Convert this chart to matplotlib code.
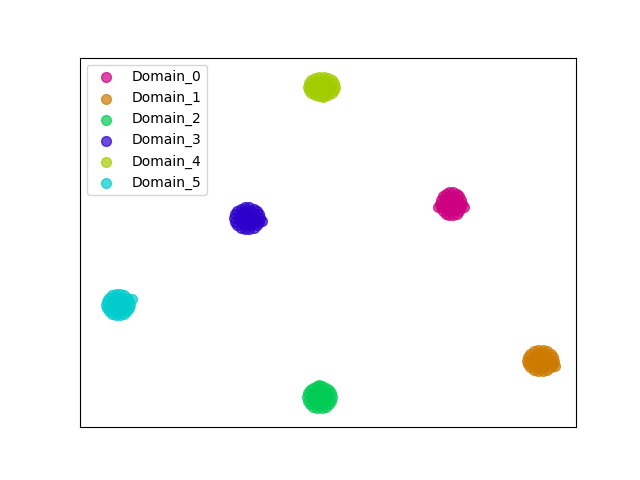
import matplotlib
matplotlib.use('Agg')
import matplotlib.pyplot as plt

labels = ['Domain_0', 'Domain_1', 'Domain_2', 'Domain_3', 'Domain_4', 'Domain_5']
colors = ['#cc0080', '#cc7a00', '#00cc55', '#2e00cc', '#a3cc00', '#00cccc']

# embedded points for each domain
x0 = [462, 461.3, 459.4, 456.5, 452.9, 449.1, 445.5, 442.6, 440.7, 440, 440.7, 442.6, 445.5, 449.1, 452.9, 456.5, 459.4, 461.3,
      458, 456.7, 453.2, 448.8, 445.3, 444, 445.3, 448.8, 453.2, 456.7,
      455, 452.2, 447.8, 447.8, 452.2, 451, 438, 464]
y0 = [276.5, 280.4, 283.9, 286.5, 287.8, 287.8, 286.5, 283.9, 280.4, 276.5, 272.6, 269.1, 266.5, 265.2, 265.2, 266.5, 269.1, 272.6,
      276.5, 280.6, 283.2, 283.2, 280.6, 276.5, 272.4, 269.8, 269.8, 272.4,
      276.5, 279.8, 278.6, 274.4, 273.2, 276.5, 273, 273]

x1 = [554, 553.2, 550.8, 547.3, 542.8, 538.2, 533.7, 530.2, 527.8, 527, 527.8, 530.2, 533.7, 538.2, 542.8, 547.3, 550.8, 553.2,
      549, 547.4, 543.1, 537.9, 533.6, 532, 533.6, 537.9, 543.1, 547.4,
      544.5, 541.7, 537.3, 537.3, 541.7, 540.5, 554.5]
y1 = [119.5, 123.1, 126.2, 128.6, 129.8, 129.8, 128.6, 126.2, 123.1, 119.5, 115.9, 112.8, 110.4, 109.2, 109.2, 110.4, 112.8, 115.9,
      119.5, 123.3, 125.7, 125.7, 123.3, 119.5, 115.7, 113.3, 113.3, 115.7,
      119.5, 122.8, 121.6, 117.4, 116.2, 119.5, 114]

x2 = [332, 331.2, 329.1, 325.8, 321.7, 317.3, 313.2, 309.9, 307.8, 307, 307.8, 309.9, 313.2, 317.3, 321.7, 325.8, 329.1, 331.2,
      327.5, 326, 322, 317, 313, 311.5, 313, 317, 322, 326,
      323.5, 320.7, 316.3, 316.3, 320.7, 319.5, 318.5]
y2 = [83, 86.8, 90.1, 92.5, 93.8, 93.8, 92.5, 90.1, 86.8, 83, 79.2, 75.9, 73.5, 72.2, 72.2, 73.5, 75.9, 79.2,
      83, 87.1, 89.7, 89.7, 87.1, 83, 78.9, 76.3, 76.3, 78.9,
      83, 86.3, 85.1, 80.9, 79.7, 83, 95.5]

x3 = [260, 259.2, 257, 253.5, 249.3, 244.7, 240.5, 237, 234.8, 234, 234.8, 237, 240.5, 244.7, 249.3, 253.5, 257, 259.2,
      255, 253.5, 249.5, 244.5, 240.5, 239, 240.5, 244.5, 249.5, 253.5,
      251, 248.2, 243.8, 243.8, 248.2, 247, 261.5]
y3 = [262, 265.8, 269.1, 271.5, 272.8, 272.8, 271.5, 269.1, 265.8, 262, 258.2, 254.9, 252.5, 251.2, 251.2, 252.5, 254.9, 258.2,
      262, 266.1, 268.7, 268.7, 266.1, 262, 257.9, 255.3, 255.3, 257.9,
      262, 265.3, 264.1, 259.9, 258.7, 262, 259.5]

x4 = [335, 334.2, 331.8, 328.3, 323.8, 319.2, 314.7, 311.2, 308.8, 308, 308.8, 311.2, 314.7, 319.2, 323.8, 328.3, 331.8, 334.2,
      330, 328.4, 324.1, 318.9, 314.6, 313, 314.6, 318.9, 324.1, 328.4,
      325.5, 322.7, 318.3, 318.3, 322.7, 321.5, 323]
y4 = [393.5, 396.9, 399.9, 402.2, 403.3, 403.3, 402.2, 399.9, 396.9, 393.5, 390.1, 387.1, 384.8, 383.7, 383.7, 384.8, 387.1, 390.1,
      393.5, 397, 399.2, 399.2, 397, 393.5, 390, 387.8, 387.8, 390,
      393.5, 396.5, 395.5, 391.5, 390.5, 393.5, 383]

x5 = [130, 129.3, 127.2, 124, 120.1, 115.9, 112, 108.8, 106.7, 106, 106.7, 108.8, 112, 115.9, 120.1, 124, 127.2, 129.3,
      125.5, 124.1, 120.3, 115.7, 111.9, 110.5, 111.9, 115.7, 120.3, 124.1,
      122, 119.2, 114.8, 114.8, 119.2, 118, 131.5]
y5 = [175.5, 179.1, 182.2, 184.6, 185.8, 185.8, 184.6, 182.2, 179.1, 175.5, 171.9, 168.8, 166.4, 165.2, 165.2, 166.4, 168.8, 171.9,
      175.5, 179.3, 181.7, 181.7, 179.3, 175.5, 171.7, 169.3, 169.3, 171.7,
      175.5, 178.8, 177.6, 173.4, 172.2, 175.5, 181]

xs = [x0, x1, x2, x3, x4, x5]
ys = [y0, y1, y2, y3, y4, y5]

fig, ax = plt.subplots(figsize=(6.4, 4.8), dpi=100)
for x, y, c, lab in zip(xs, ys, colors, labels):
    ax.scatter(x, y, s=50, c=c, alpha=0.7, label=lab)

ax.set_xlim(80, 576)
ax.set_ylim(52.8, 422.4)
ax.set_xticks([])
ax.set_yticks([])
ax.legend(loc='upper left')

fig.savefig('out.png')
